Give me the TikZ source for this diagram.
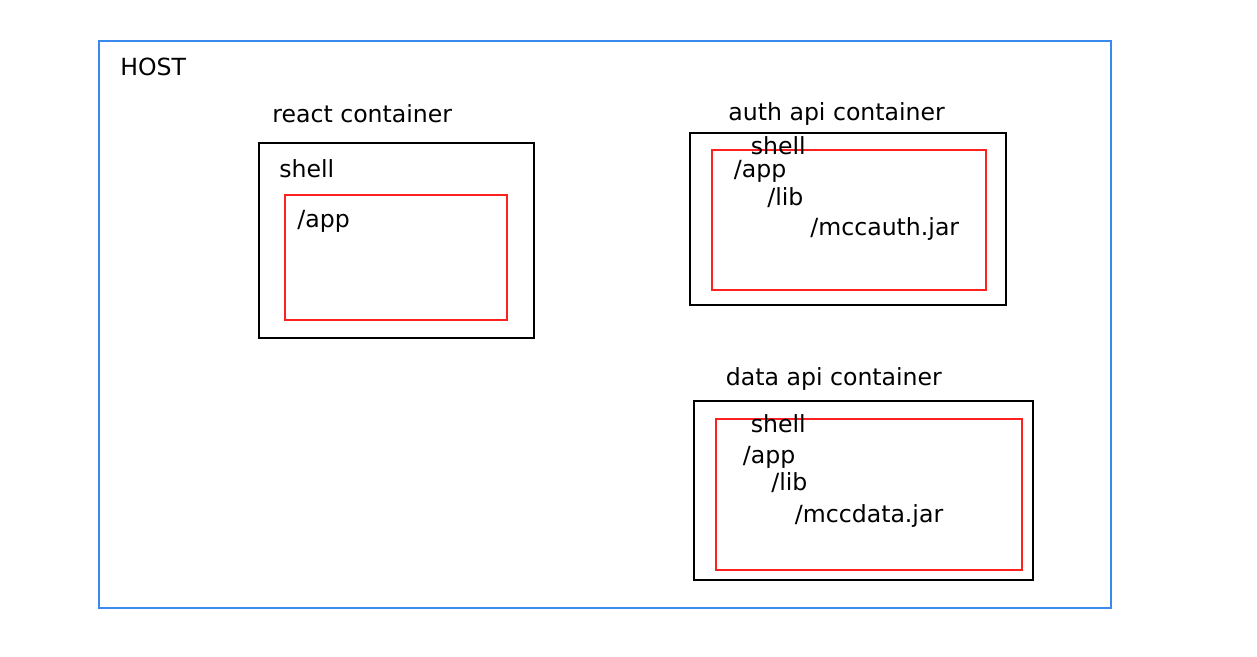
\documentclass[tikz,border=0pt]{standalone}
\usepackage{fontspec}
\setmainfont{DejaVu Sans}
\usetikzlibrary{positioning}
\definecolor{hostblue}{RGB}{58,138,238}
\definecolor{dirred}{RGB}{255,32,32}
\tikzset{
hostbox/.style={
  draw=hostblue,
  line width=1pt,
  anchor=north west,
  inner sep=0pt,
  outer sep=0pt
  },
shellbox/.style={
  draw=black,
  line width=1pt,
  anchor=north west,
  inner sep=0pt,
  outer sep=0pt
  },
dirbox/.style={
  draw=dirred,
  line width=1pt,
  anchor=north west,
  inner sep=0pt,
  outer sep=0pt
  },
lbl/.style={
  anchor=base west,
  inner sep=0pt,
  font=\fontsize{11.8}{14}\selectfont
  }
}
\begin{document}
\begin{tikzpicture}[x=0.5pt, y=-0.5pt]
\useasboundingbox (0,0) rectangle (1257,657);

\node[hostbox, minimum width=506pt, minimum height=283.5pt]
at (99,41)
(host) {};
\node[lbl] at (120,76) (hostlbl) {HOST};

\node[lbl] at (272,123) (reactlbl) {react container};
\node[shellbox, minimum width=137.5pt, minimum height=97.5pt]
at (259,143)
(reactshell) {};
\node[lbl] at (279,177.5) (reactshelllbl) {shell};
\node[dirbox, minimum width=111pt, minimum height=62.5pt]
at (285,195)
(reactapp) {};
\node[lbl] at (297,227.5) (reactapplbl) {/app};

\node[lbl] at (728,121) (authlbl) {auth api container};
\node[shellbox, minimum width=158pt, minimum height=86pt]
at (690,133)
(authshell) {};
\node[dirbox, minimum width=137pt, minimum height=70pt]
at (712,150)
(authapp) {};
\node[lbl] at (750.5,154.5) (authshelllbl) {shell};
\node[lbl] at (733.5,177.5) (authapplbl) {/app};
\node[lbl] at (767,206) (authliblbl) {/lib};
\node[lbl] at (810,236) (authjarlbl) {/mccauth.jar};

\node[lbl] at (725.5,386) (datalbl) {data api container};
\node[shellbox, minimum width=169.5pt, minimum height=89.5pt]
at (694,401)
(datashell) {};
\node[dirbox, minimum width=153pt, minimum height=75.5pt]
at (716,419)
(dataapp) {};
\node[lbl] at (750.5,432.5) (datashelllbl) {shell};
\node[lbl] at (742.5,463.5) (dataapplbl) {/app};
\node[lbl] at (771,490.5) (dataliblbl) {/lib};
\node[lbl] at (794.5,522) (datajarlbl) {/mccdata.jar};
\end{tikzpicture}
\end{document}
